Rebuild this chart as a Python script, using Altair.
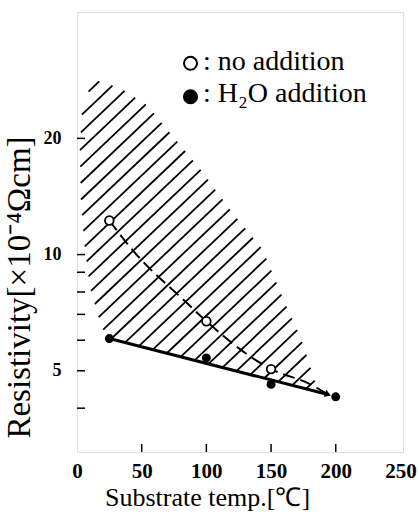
import numpy as np
import pandas as pd
import altair as alt

# ---------------- data ----------------
open_x = [25, 100, 150]
open_y = [12.25, 6.72, 5.05]

filled_x = [25, 100, 150, 200]
filled_y = [6.06, 5.40, 4.61, 4.28]

# dashed trend curve through the open circles (ends in an arrow)
curve_x = [25, 42, 85, 100, 150, 180, 194]
curve_y = [12.25, 10.36, 7.49, 6.72, 5.05, 4.62, 4.34]

# solid line through the filled circles
fit_x = [25, 194]
fit_y = [6.06, 4.34]

# hatched region boundary (clockwise)
region_x = [9.3, 17.0, 33.2, 54.0, 94.9, 120.4, 143.5, 160.5, 173.6, 183.6, 188.0,
            25.0, 22.4, 16.2, 10.0, 5.4, 3.1, 2.3, 3.9]
region_y = [26.7, 28.1, 27.0, 24.4, 16.7, 12.8, 10.3, 7.53, 6.0, 4.73, 4.39,
            6.06, 6.11, 6.97, 8.24, 10.9, 13.9, 18.7, 23.4]

x_ticks = [0, 50, 100, 150, 200, 250]
x_inner_ticks = [50, 100, 150, 200]
y_labels = [5, 10, 20]
y_inner_ticks = [4, 5, 6, 7, 8, 9, 10, 20]

legend_labels = [": no addition", ": H\u2082O addition"]

# ---------------- scales / layout ----------------
X_MAX = 252
Y_MIN, Y_MAX = 3.08, 42.5
W, H = 326, 440
FONT = "Liberation Serif"

xs = alt.Scale(domain=[0, X_MAX], nice=False, zero=False)
ys = alt.Scale(type="log", domain=[Y_MIN, Y_MAX], nice=False)

LOGR = np.log10(Y_MAX / Y_MIN)


def to_px(x, y):
    return x / X_MAX * W, H - np.log10(y / Y_MIN) / LOGR * H


def from_px(px, py):
    return px / W * X_MAX, Y_MIN * 10 ** ((H - py) / H * LOGR)


# ---------------- hatch lines clipped to the region ----------------
SLOPE = 0.95      # screen slope of hatch lines (up-right)
STEP = 16.8       # spacing in intercept units
B0 = 90.5
pts = [to_px(x, y) for x, y in zip(region_x, region_y)]
bvals = [p[1] + SLOPE * p[0] for p in pts]
rows = []
k0 = int(np.floor((min(bvals) - B0) / STEP)) - 1
k1 = int(np.ceil((max(bvals) - B0) / STEP)) + 1
for k in range(k0, k1 + 1):
    b = B0 + k * STEP
    inter = []
    n = len(pts)
    for i in range(n):
        (x1, y1), (x2, y2) = pts[i], pts[(i + 1) % n]
        f1 = y1 + SLOPE * x1 - b
        f2 = y2 + SLOPE * x2 - b
        if (f1 < 0) != (f2 < 0):
            t = f1 / (f1 - f2)
            inter.append((x1 + t * (x2 - x1), y1 + t * (y2 - y1)))
    inter.sort()
    for j in range(0, len(inter) - 1, 2):
        a, c = inter[j], inter[j + 1]
        xa, ya = from_px(*a)
        xc, yc = from_px(*c)
        rows.append({"x": xa, "y": ya, "x2": xc, "y2": yc})
hatch_df = pd.DataFrame(rows)

# ---------------- layers ----------------
hatch = alt.Chart(hatch_df).mark_rule(color="black", strokeWidth=1.8).encode(
    x=alt.X("x:Q", scale=xs), y=alt.Y("y:Q", scale=ys), x2="x2:Q", y2="y2:Q"
)

fit = alt.Chart(pd.DataFrame({"x": fit_x, "y": fit_y})).mark_line(
    color="black", strokeWidth=3
).encode(x=alt.X("x:Q", scale=xs), y=alt.Y("y:Q", scale=ys))

curve = alt.Chart(pd.DataFrame({"x": curve_x, "y": curve_y})).mark_line(
    color="black", strokeWidth=2, strokeDash=[12, 6], interpolate="monotone"
).encode(x=alt.X("x:Q", scale=xs), y=alt.Y("y:Q", scale=ys))

arrow = alt.Chart(pd.DataFrame({"x": curve_x[-1:], "y": curve_y[-1:]})).mark_point(
    shape="triangle-right", filled=True, color="black", size=55, angle=22, opacity=1
).encode(x=alt.X("x:Q", scale=xs), y=alt.Y("y:Q", scale=ys))

open_pts = alt.Chart(pd.DataFrame({"x": open_x, "y": open_y})).mark_point(
    shape="circle", filled=True, fill="white", stroke="black", strokeWidth=1.8,
    size=75, opacity=1
).encode(x=alt.X("x:Q", scale=xs), y=alt.Y("y:Q", scale=ys))

filled_pts = alt.Chart(pd.DataFrame({"x": filled_x, "y": filled_y})).mark_point(
    shape="circle", filled=True, color="black", size=80, opacity=1
).encode(x=alt.X("x:Q", scale=xs), y=alt.Y("y:Q", scale=ys))

yt = alt.Chart(pd.DataFrame({"y": y_inner_ticks})).mark_rule(
    color="black", strokeWidth=1.5
).encode(y=alt.Y("y:Q", scale=ys), x=alt.value(0), x2=alt.value(8))

xt = alt.Chart(pd.DataFrame({"x": x_inner_ticks})).mark_rule(
    color="black", strokeWidth=1.5
).encode(x=alt.X("x:Q", scale=xs), y=alt.value(H), y2=alt.value(H - 8))

# axes (labels and titles only)
axes = alt.Chart(pd.DataFrame({"x": [0], "y": [10]})).mark_point(opacity=0).encode(
    x=alt.X("x:Q", scale=xs, axis=alt.Axis(
        values=x_ticks, title="Substrate temp.[\u2103]", ticks=False, tickSize=0,
        domain=False, grid=False, labelFont=FONT, labelFontWeight="bold",
        labelFontSize=21, labelColor="black", labelBaseline="alphabetic",
        labelPadding=25, labelFlush=False, labelOverlap=False,
        titleFont=FONT, titleFontSize=26, titleFontWeight="normal", titleColor="black",
        titleX=130, titleY=53, titleAlign="center", titleBaseline="alphabetic",
    )),
    y=alt.Y("y:Q", scale=ys, axis=alt.Axis(
        values=y_labels, title="Resistivity[\u00d710\u207b\u2074\u03a9cm]", ticks=False,
        tickSize=0, domain=False, grid=False, labelFont=FONT, labelFontWeight="bold",
        labelFontSize=18, labelColor="black", labelPadding=16, labelBaseline="middle",
        labelOverlap=False, format="d",
        titleFont=FONT, titleFontSize=33, titleFontWeight="normal", titleColor="black",
        titleAngle=270, titleX=-48, titleY=275, titleAlign="center",
        titleBaseline="alphabetic",
    )),
)

# legend drawn as marks
leg_layers = []
leg_pos = [(113.5, 51.3, 126, 57.8, "white"), (113.5, 84.7, 126, 90.2, "black")]
for lab, (cx, cy, tx, ty, fillc) in zip(legend_labels, leg_pos):
    d = pd.DataFrame({"t": [lab]})
    leg_layers.append(
        alt.Chart(d).mark_point(shape="circle", filled=True, fill=fillc, stroke="black",
                                strokeWidth=2, size=170, opacity=1)
        .encode(x=alt.value(cx), y=alt.value(cy))
    )
    leg_layers.append(
        alt.Chart(d).mark_text(font=FONT, fontSize=28, align="left", baseline="alphabetic",
                               color="black")
        .encode(x=alt.value(tx), y=alt.value(ty), text="t:N")
    )

chart = alt.layer(
    axes, hatch, fit, curve, arrow, open_pts, filled_pts, yt, xt, *leg_layers
).properties(
    width=W, height=H,
    autosize=alt.AutoSizeParams(type="none"),
    padding={"left": 77, "top": 12, "right": 15, "bottom": 66},
).configure_view(
    stroke="black", strokeWidth=2
).configure(background="white")

chart.save("out.html", embed_options={"renderer": "svg", "actions": False})
